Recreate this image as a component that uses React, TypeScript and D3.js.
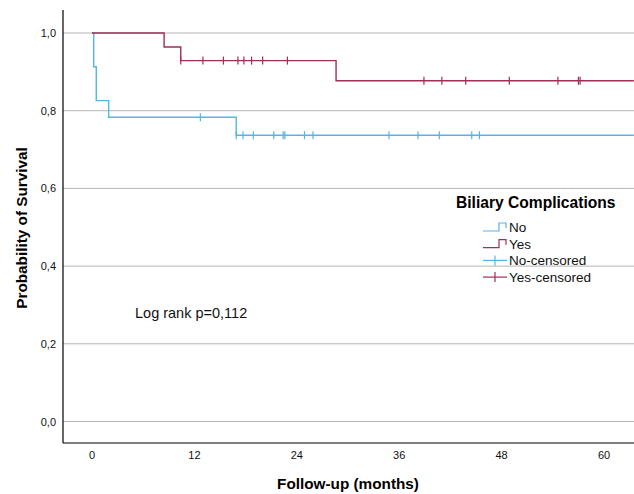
import React from 'react';
import * as d3 from 'd3';

// Kaplan-Meier steps (months, survival)
const noStepTimes = [0, 0.2, 0.5, 1.95, 16.9];
const noStepSurv = [1.0, 0.913, 0.826, 0.783, 0.737];
const noCensored = [12.7, 16.9, 17.7, 18.9, 21.3, 22.4, 22.6, 24.9, 25.9, 34.8, 38.2, 40.7, 44.5, 45.4];

const yesStepTimes = [0, 8.45, 10.4, 28.6];
const yesStepSurv = [1.0, 0.964, 0.929, 0.877];
const yesCensored = [10.4, 13.0, 15.4, 17.1, 17.8, 18.7, 20.0, 22.9, 38.9, 41.0, 43.8, 48.9, 54.6, 57.0, 57.2];

const followUpEnd = 63.5;
const xTicks = [0, 12, 24, 36, 48, 60];
const yTicks = [0, 0.2, 0.4, 0.6, 0.8, 1.0];
const legendLabels = ['No', 'Yes', 'No-censored', 'Yes-censored'];

const BLUE = '#52b6e2';
const RED = '#9d2f58';

const W = 634, H = 494;
const frame = { left: 63, right: 634, top: 10, bottom: 443 };

const fmt = (v: number) => v.toFixed(1).replace('.', ',');

function survAt(times: number[], surv: number[], t: number) {
    let s = surv[0];
    for (let i = 0; i < times.length; i++) {
        if (times[i] <= t) s = surv[i];
    }
    return s;
}

export default function App() {
    const x = d3.scaleLinear().domain([0, 60]).range([92, 604]);
    const y = d3.scaleLinear().domain([0, 1]).range([421.5, 33]);

    const line = d3.line<[number, number]>()
        .x(d => x(d[0]))
        .y(d => y(d[1]))
        .curve(d3.curveStepAfter);

    const curve = (times: number[], surv: number[]) => {
        const pts: [number, number][] = times.map((t, i) => [t, surv[i]]);
        pts.push([followUpEnd, surv[surv.length - 1]]);
        return line(pts) || '';
    };

    const censorMarks = (times: number[], stepT: number[], stepS: number[], color: string) =>
        times.map((t, i) => {
            const cx = x(t), cy = y(survAt(stepT, stepS, t));
            return <line key={i} x1={cx} x2={cx} y1={cy - 4} y2={cy + 4} stroke={color} strokeWidth={1.2}/>;
        });

    const font = 'Arial, "Liberation Sans", sans-serif';
    const lx = 483, ly0 = 232, lstep = 16.7;

    return (
        <svg width={W} height={H} style={{ position: 'absolute', left: 0, top: 0, background: '#fff' }} fontFamily={font}>
            {yTicks.map(v => (
                <g key={v}>
                    <line x1={frame.left} x2={frame.right} y1={y(v)} y2={y(v)} stroke="#b4b4b4" strokeWidth={1}/>
                    <text x={56} y={y(v) + 4} textAnchor="end" fontSize={11} fill="#111">{fmt(v)}</text>
                </g>
            ))}
            {xTicks.map(v => (
                <text key={v} x={x(v)} y={459} textAnchor="middle" fontSize={11} fill="#111">{v}</text>
            ))}
            <line x1={frame.left} x2={frame.left} y1={frame.top} y2={frame.bottom} stroke="#000" strokeWidth={1.2}/>
            <line x1={frame.left} x2={frame.right} y1={frame.bottom} y2={frame.bottom} stroke="#000" strokeWidth={1.2}/>

            <path d={curve(noStepTimes, noStepSurv)} fill="none" stroke={BLUE} strokeWidth={1.4}/>
            <path d={curve(yesStepTimes, yesStepSurv)} fill="none" stroke={RED} strokeWidth={1.4}/>
            {censorMarks(noCensored, noStepTimes, noStepSurv, BLUE)}
            {censorMarks(yesCensored, yesStepTimes, yesStepSurv, RED)}

            <text x={135} y={318} fontSize={14.5} fill="#111">Log rank p=0,112</text>

            <text x={456} y={208} fontSize={15.6} fontWeight="bold" fill="#000">Biliary Complications</text>
            {legendLabels.map((lab, i) => {
                const by = ly0 + i * lstep;
                const color = i % 2 === 0 ? BLUE : RED;
                const sym = i < 2
                    ? <path d={`M${lx},${by - 1} H${lx + 16} V${by - 9} H${lx + 23} V${by - 4}`} fill="none" stroke={color} strokeWidth={1.2}/>
                    : <g>
                        <line x1={lx} x2={lx + 24} y1={by - 5} y2={by - 5} stroke={color} strokeWidth={1.2}/>
                        <line x1={lx + 12} x2={lx + 12} y1={by - 10} y2={by} stroke={color} strokeWidth={1.2}/>
                    </g>;
                return (
                    <g key={lab}>
                        {sym}
                        <text x={lx + 26} y={by} fontSize={13.5} fill="#111">{lab}</text>
                    </g>
                );
            })}

            <text x={348} y={488.5} textAnchor="middle" fontSize={15.3} fontWeight="bold" fill="#000">Follow-up (months)</text>
            <text transform="translate(27,228) rotate(-90)" textAnchor="middle" fontSize={15.3} fontWeight="bold" fill="#000">Probability of Survival</text>
        </svg>
    );
}
